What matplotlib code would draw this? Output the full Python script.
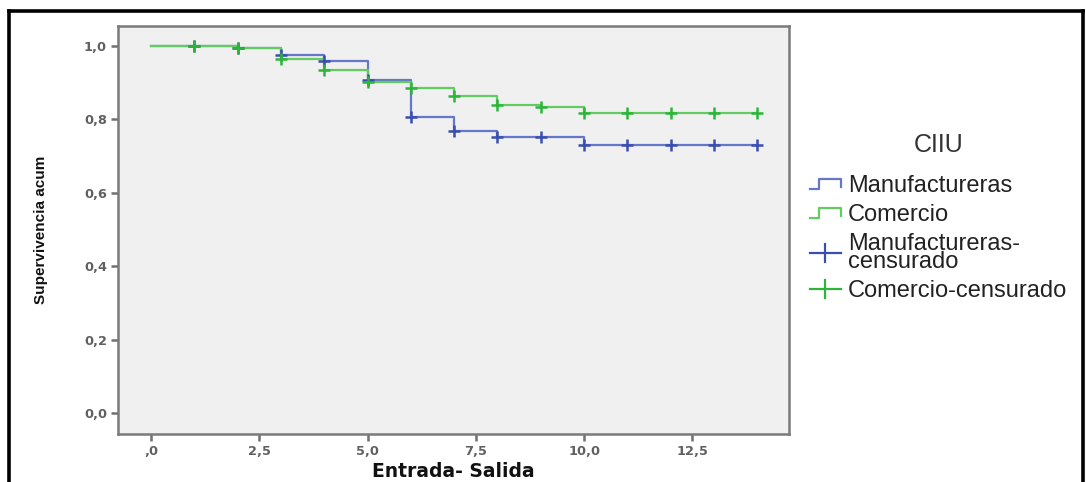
import matplotlib
matplotlib.use("Agg")
import matplotlib.pyplot as plt
from matplotlib.lines import Line2D
from matplotlib.legend_handler import HandlerBase
import numpy as np

# survival estimates (step, post)
times = [0, 1, 2, 3, 4, 5, 6, 7, 8, 9, 10, 11, 12, 13, 14]
manu_surv = [1.0, 1.0, 0.995, 0.975, 0.960, 0.907, 0.805, 0.767, 0.751, 0.751, 0.731, 0.731, 0.731, 0.731, 0.731]
com_surv = [1.0, 1.0, 0.995, 0.964, 0.935, 0.901, 0.884, 0.864, 0.840, 0.833, 0.817, 0.817, 0.817, 0.817, 0.817]

# censored observations
cens_times = [1, 2, 3, 4, 5, 6, 7, 8, 9, 10, 11, 12, 13, 14]

x_ticks = [0, 2.5, 5, 7.5, 10, 12.5]
x_ticklabels = [",0", "2,5", "5,0", "7,5", "10,0", "12,5"]
y_ticks = [0, 0.2, 0.4, 0.6, 0.8, 1.0]
y_ticklabels = ["0,0", "0,2", "0,4", "0,6", "0,8", "1,0"]

legend_labels = ["Manufactureras", "Comercio", "Manufactureras-\ncensurado", "Comercio-censurado"]

BLUE_LINE = "#6477c8"
BLUE_MARK = "#3a4db0"
GREEN_LINE = "#62cc62"
GREEN_MARK = "#2cb53a"


class StepHandler(HandlerBase):
    def create_artists(self, legend, orig_handle, xdescent, ydescent,
                       width, height, fontsize, trans):
        xs = np.array([0.0, 0.3, 0.3, 1.0, 1.0]) * width - xdescent
        ys = np.array([0.2, 0.2, 0.8, 0.8, 0.3]) * height - ydescent
        ln = Line2D(xs, ys, color=orig_handle.get_color(), lw=1.6, transform=trans)
        return [ln]


class CrossHandler(HandlerBase):
    def create_artists(self, legend, orig_handle, xdescent, ydescent,
                       width, height, fontsize, trans):
        yc = 0.5 * height - ydescent
        h = Line2D([-xdescent, width - xdescent], [yc, yc],
                   color=orig_handle.get_color(), lw=1.6, transform=trans)
        xm = 0.5 * width - xdescent
        v = Line2D([xm, xm], [yc - 0.55 * height, yc + 0.55 * height],
                   color=orig_handle.get_color(), lw=1.6, transform=trans)
        return [h, v]


def get_surv_at(t, ts, surv):
    idx = np.searchsorted(ts, t, side="right") - 1
    return surv[idx]


def main():
    fig = plt.figure(figsize=(10.86, 4.82), dpi=100)
    ax = fig.add_axes([118 / 1086, 1 - 434 / 482, 671 / 1086, 408 / 482])
    ax.set_facecolor("#f0f0f0")

    ax.step(times, manu_surv, where="post", color=BLUE_LINE, lw=1.6, zorder=2)
    ax.step(times, com_surv, where="post", color=GREEN_LINE, lw=1.6, zorder=3)

    manu_c = [get_surv_at(t, times, manu_surv) for t in cens_times]
    com_c = [get_surv_at(t, times, com_surv) for t in cens_times]
    ax.plot(cens_times, manu_c, ls="none", marker="+", ms=9, mew=1.8,
            color=BLUE_MARK, zorder=4)
    ax.plot(cens_times, com_c, ls="none", marker="+", ms=9, mew=1.8,
            color=GREEN_MARK, zorder=5)

    ax.set_xlim(-0.76, 14.73)
    ax.set_ylim(-0.057, 1.054)
    ax.set_xticks(x_ticks)
    ax.set_xticklabels(x_ticklabels)
    ax.set_yticks(y_ticks)
    ax.set_yticklabels(y_ticklabels)
    for lab in ax.get_xticklabels() + ax.get_yticklabels():
        lab.set_fontfamily("DejaVu Sans")
        lab.set_fontweight("bold")
        lab.set_fontsize(9.3)
        lab.set_color("#606060")
    ax.tick_params(axis="both", direction="out", length=5, width=1.8,
                   color="#707070", pad=3)

    for sp in ax.spines.values():
        sp.set_color("#7a7a7a")
        sp.set_linewidth(1.8)

    ax.set_xlabel("Entrada- Salida", fontfamily="DejaVu Sans", fontweight="bold",
                  fontsize=13.5, color="#111111", labelpad=3)
    ax.set_ylabel("Supervivencia acum", fontfamily=["Liberation Sans Narrow", "Liberation Sans"],
                  fontweight="bold", fontsize=11, color="#111111")
    ax.yaxis.set_label_coords(-70 / 671, 0.5)

    handles = [Line2D([], [], color=BLUE_LINE), Line2D([], [], color=GREEN_LINE),
               Line2D([0], [0], color=BLUE_MARK), Line2D([0], [0], color=GREEN_MARK)]
    hmap = {handles[0]: StepHandler(), handles[1]: StepHandler(),
            handles[2]: CrossHandler(), handles[3]: CrossHandler()}
    leg = ax.legend(handles, legend_labels, handler_map=hmap,
                    loc="upper left", bbox_to_anchor=(810 / 1086, 1 - 133 / 482),
                    bbox_transform=fig.transFigure, frameon=False,
                    prop={"family": "Liberation Sans", "size": 17},
                    title="CIIU", title_fontproperties={"family": "Liberation Sans", "size": 18},
                    handlelength=1.3, handletextpad=0.3, labelspacing=0.3,
                    borderpad=0, borderaxespad=0)
    for t in leg.get_texts():
        t.set_linespacing(0.75)
        t.set_color("#222222")
    leg.get_title().set_color("#333333")
    leg._legend_box.sep = 13

    # black outer frame
    frame_kw = dict(color="black", lw=2.6, transform=fig.transFigure, clip_on=False)
    fig.add_artist(Line2D([9 / 1086, 9 / 1086], [0, 1 - 11 / 482], **frame_kw))
    fig.add_artist(Line2D([9 / 1086, 1083 / 1086], [1 - 11 / 482, 1 - 11 / 482], **frame_kw))
    fig.add_artist(Line2D([1083 / 1086, 1083 / 1086], [0, 1 - 11 / 482], **frame_kw))

    fig.savefig("out.png", dpi=100, facecolor="white")


if __name__ == "__main__":
    main()
